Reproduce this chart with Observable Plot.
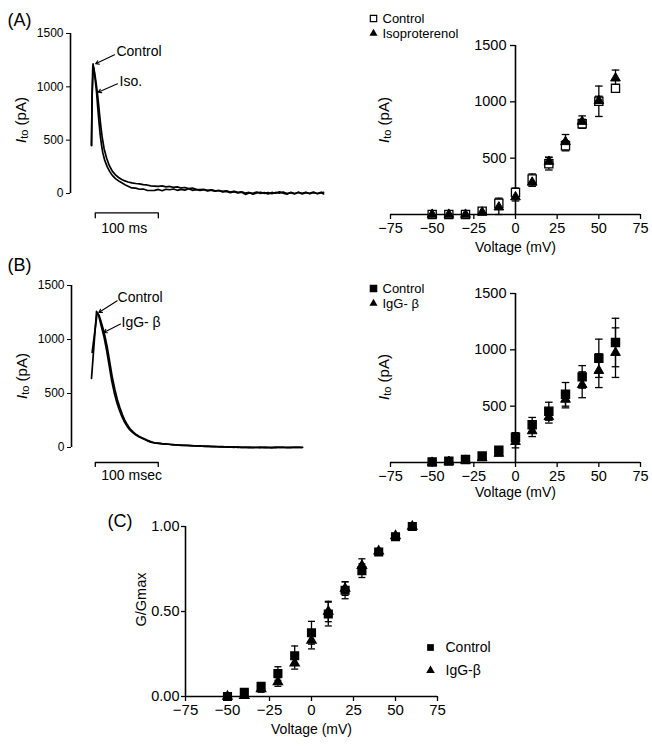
<!DOCTYPE html>
<html><head><meta charset="utf-8">
<script src="https://cdn.jsdelivr.net/npm/d3@7"></script>
<script src="https://cdn.jsdelivr.net/npm/@observablehq/plot@0.6"></script>
<style>
body{margin:0;background:#fff;}
#fig{position:relative;width:652px;height:746px;background:#fff;}
</style></head><body><div id="fig"></div>
<script>
// ---------- data ----------
const yTicksTrace = [0, 500, 1000, 1500];
const yTicksIV = [500, 1000, 1500];
const vTicks = [-75, -50, -25, 0, 25, 50, 75];
const cYTicks = [0, 0.5, 1];
const voltages = [-50, -40, -30, -20, -10, 0, 10, 20, 30, 40, 50, 60];

// (A) I-V: Control vs Isoproterenol (pA)
const aControl = [0, 0, 0, 30, 100, 195, 315, 450, 610, 805, 1005, 1120];
const aControlErr = [0, 0, 0, 0, 45, 40, 45, 55, 45, 40, 135, 30];
const aIso = [0, 0, 0, 20, 65, 155, 285, 470, 645, 825, 1010, 1210];
const aIsoErr = [0, 0, 0, 0, 65, 35, 35, 40, 65, 50, 40, 72];

// (B) I-V: Control vs IgG-β (pA)
const bControl = [5, 12, 27, 57, 110, 225, 335, 455, 605, 760, 925, 1065];
const bControlErr = [0, 0, 0, 0, 20, 40, 65, 80, 105, 100, 170, 215];
const bIgg = [0, 8, 18, 40, 80, 185, 280, 405, 560, 690, 815, 975];
const bIggErr = [0, 0, 0, 0, 20, 55, 50, 55, 75, 115, 150, 220];

// (C) G/Gmax
const cControl = [0, 0.025, 0.06, 0.135, 0.24, 0.375, 0.485, 0.625, 0.74, 0.85, 0.94, 1.0];
const cControlErr = [0, 0.01, 0.015, 0.04, 0.057, 0.067, 0.07, 0.05, 0.04, 0.015, 0.01, 0];
const cIgg = [0, 0.005, 0.045, 0.085, 0.196, 0.33, 0.5, 0.635, 0.77, 0.855, 0.945, 1.0];
const cIggErr = [0, 0.005, 0.02, 0.025, 0.035, 0.05, 0.06, 0.04, 0.04, 0.015, 0.01, 0];

// current traces [time ms, current pA]
const traceAControl = [[0,450],[1,950],[2,1180],[2.5,1215],[4,1150],[6,1060],[8,950],[10,800],[12,660],[14,540],[16,450],[18,380],[21,310],[25,250],[29,205],[33,170],[38,140],[43,118],[48,100],[53,82],[58,68],[64,52],[70,50],[76,40],[82,42],[88,30],[94,28],
[100,30],[106,38],[112,26],[118,40],[124,35],[130,42],[136,30],[142,38],[148,32],[154,44],[160,30],[166,36],[172,28],[178,35],[184,25],[190,32],[196,22],[202,28],[208,15],[214,20],[220,8],[226,18],[232,5],[238,12],[244,-8],[250,6],[256,2],[262,14],[268,0],[274,8],[280,-4],[286,10],[292,2],[298,16],[304,4],[310,-6],[316,10],[322,0],[328,12],[334,-4],[340,8],[346,2],[352,14],[358,-2],[364,6],[368,10]];
const traceAIso = [[0,450],[1,920],[2.5,1150],[3.5,1180],[5,1130],[7,1050],[9,960],[11,850],[13,730],[15,620],[17,525],[20,420],[24,330],[28,265],[33,210],[38,175],[43,150],[48,132],[53,118],[58,108],[64,100],[70,94],[76,90],[82,84],[88,80],[94,72],
[100,70],[106,66],[112,72],[118,62],[124,66],[130,58],[136,62],[142,52],[148,56],[154,46],[160,50],[166,40],[172,36],[178,40],[184,30],[190,34],[196,24],[202,28],[208,20],[214,26],[220,14],[226,20],[232,10],[238,16],[244,4],[250,10],[256,-6],[262,6],[268,12],[274,2],[280,8],[286,-2],[292,10],[298,4],[304,14],[310,0],[316,8],[322,-4],[328,10],[334,2],[340,12],[346,-2],[352,8],[358,0],[364,12],[368,-4]];
const traceBControl = [[0,640],[8,1260],[11,1230],[14,1160],[17,1090],[20,1020],[24,900],[28,760],[32,620],[36,510],[40,420],[44,350],[48,290],[52,240],[56,200],[60,168],[65,140],[70,118],[75,100],[80,85],[88,64],[94,50],
[100,42],[106,38],[112,34],[118,31],[124,30],[130,25],[136,24],[142,20],[148,21],[154,17],[160,18],[166,14],[172,16],[178,11],[184,12],[190,8],[196,10],[202,6],[208,8],[214,4],[220,6],[226,2],[232,5],[238,0],[244,3],[250,-2],[256,2],[262,0],[268,4],[274,-2],[280,2],[286,-3],[292,3],[298,0],[304,4],[310,-2],[316,2],[322,0],[328,3],[335,0]];
const traceBIgg = [[1,880],[9,1245],[12,1225],[15,1170],[18,1110],[21,1040],[25,930],[29,790],[33,650],[37,540],[41,445],[45,370],[49,305],[53,250],[57,210],[61,175],[66,145],[71,120],[76,102],[81,88],[89,66],[95,52],
[100,44],[106,40],[112,36],[118,33],[124,29],[130,27],[136,23],[142,22],[148,19],[154,19],[160,15],[166,15],[172,12],[178,13],[184,10],[190,11],[196,7],[202,8],[208,5],[214,6],[220,3],[226,5],[232,1],[238,3],[244,0],[250,3],[256,-1],[262,2],[268,-2],[274,3],[280,0],[286,2],[292,-1],[298,4],[304,0],[310,2],[316,-2],[322,3],[328,0],[335,2]];

const scaleA = {start: 6, length: 100, label: "100 ms"};
const scaleB = {start: 6, length: 100, label: "100 msec"};
const annA = [
  {label: "Control", tx: 39.6, ty: 1328, x1: 36.5, y1: 1300, x2: 6.5, y2: 1216},
  {label: "Iso.", tx: 44.4, ty: 1052, x1: 41.2, y1: 1028, x2: 10.5, y2: 950}
];
const annB = [
  {label: "Control", tx: 41.3, ty: 1386, x1: 40.8, y1: 1358, x2: 11.6, y2: 1250},
  {label: "IgG- β", tx: 47.6, ty: 1155, x1: 46, y1: 1143, x2: 19.5, y2: 1065}
];
const legendA = ["Control", "Isoproterenol"];
const legendB = ["Control", "IgG- β"];
const legendC = ["Control", "IgG-β"];

// ---------- helpers ----------
const FONT = "'Liberation Sans', Arial, sans-serif";
const AXW = 1.6;
const fig = document.getElementById("fig");
function place(svg, left, top) {
  svg.style.position = "absolute";
  svg.style.left = left + "px";
  svg.style.top = top + "px";
  svg.style.overflow = "visible";
  svg.style.background = "transparent";
  fig.appendChild(svg);
  return svg;
}
const rows = (v, m, e) => v.map((x, i) => ({v: x, m: m[i], e: e[i]}));
const cap = {draw(ctx, size) { const w = Math.sqrt(size / Math.PI); ctx.moveTo(-w, 0); ctx.lineTo(w, 0); }};
function errMarks(data, sw = 1.3, cr = 3.8) {
  const d = data.filter(r => r.e > 0);
  return [
    Plot.ruleX(d, {x: "v", y1: r => r.m - r.e, y2: r => r.m + r.e, strokeWidth: sw}),
    Plot.dot(d, {x: "v", y: r => r.m + r.e, symbol: cap, r: cr, stroke: "black", strokeWidth: sw}),
    Plot.dot(d, {x: "v", y: r => r.m - r.e, symbol: cap, r: cr, stroke: "black", strokeWidth: sw})
  ];
}
function itoLabel(svg, x, y) {
  const t = d3.select(svg).append("text")
    .attr("transform", `translate(${x},${y}) rotate(-90)`)
    .attr("text-anchor", "middle").attr("dominant-baseline", "central")
    .attr("font-size", 15).attr("font-family", FONT).attr("fill", "black");
  t.append("tspan").attr("font-style", "italic").text("I");
  t.append("tspan").attr("font-size", 11).attr("dy", 4).text("to");
  t.append("tspan").attr("dy", -4).text(" (pA)");
}
function bar(s, yBar, yEnd) {
  return [[s.start, yEnd], [s.start, yBar], [s.start + s.length, yBar], [s.start + s.length, yEnd]];
}
const intFmt = d3.format("d");
const lbl = (txt, opts) => Plot.text([txt], {lineAnchor: "middle", ...opts});

// ---------- (A) left: traces ----------
const xDomA = [-33.3, 379];
const aLeft = Plot.plot({
  width: 340, height: 240, marginLeft: 70, marginRight: 10, marginTop: 33, marginBottom: 47,
  style: {fontFamily: FONT, fontSize: "12px", color: "black"},
  x: {domain: xDomA, axis: null},
  y: {domain: [0, 1500]},
  marks: [
    Plot.ruleX([xDomA[0]], {y1: 0, y2: 1500, strokeWidth: AXW}),
    Plot.axisY({ticks: yTicksTrace, tickFormat: intFmt, tickSize: 4, tickPadding: 3, label: null, fontSize: 12}),
    Plot.line(traceAControl, {x: d => d[0], y: d => d[1], strokeWidth: 1.7}),
    Plot.line(traceAIso, {x: d => d[0], y: d => d[1], strokeWidth: 1.7}),
    Plot.line(bar(scaleA, -181, -228), {x: d => d[0], y: d => d[1], strokeWidth: 1.3}),
    Plot.text([scaleA.label], {x: () => scaleA.start, y: () => -331, dx: 6, textAnchor: "start", lineAnchor: "middle", fontSize: 14}),
    Plot.arrow(annA, {x1: "x1", y1: "y1", x2: "x2", y2: "y2", headLength: 5, strokeWidth: 1.1}),
    Plot.text(annA, {x: "tx", y: "ty", text: "label", textAnchor: "start", lineAnchor: "middle", fontSize: 14}),
    lbl("(A)", {frameAnchor: "top-left", dx: -63, dy: -13, textAnchor: "start", fontSize: 18})
  ]
});
place(aLeft, 0, 0);
itoLabel(aLeft, 20, 120);

// ---------- (B) left: traces ----------
const xDomB = [-31.75, 379.4];
const bLeft = Plot.plot({
  width: 340, height: 240, marginLeft: 71, marginRight: 10, marginTop: 25, marginBottom: 53,
  style: {fontFamily: FONT, fontSize: "12px", color: "black"},
  x: {domain: xDomB, axis: null},
  y: {domain: [0, 1500]},
  marks: [
    Plot.ruleX([xDomB[0]], {y1: 0, y2: 1500, strokeWidth: AXW}),
    Plot.axisY({ticks: yTicksTrace, tickFormat: intFmt, tickSize: 4, tickPadding: 3, label: null, fontSize: 12}),
    Plot.line(traceBControl, {x: d => d[0], y: d => d[1], strokeWidth: 1.7}),
    Plot.line(traceBIgg, {x: d => d[0], y: d => d[1], strokeWidth: 1.7}),
    Plot.line(bar(scaleB, -139, -175), {x: d => d[0], y: d => d[1], strokeWidth: 1.3}),
    Plot.text([scaleB.label], {x: () => scaleB.start, y: () => -255, dx: 6, textAnchor: "start", lineAnchor: "middle", fontSize: 14}),
    Plot.arrow(annB, {x1: "x1", y1: "y1", x2: "x2", y2: "y2", headLength: 5, strokeWidth: 1.1}),
    Plot.text(annB, {x: "tx", y: "ty", text: "label", textAnchor: "start", lineAnchor: "middle", fontSize: 14}),
    lbl("(B)", {frameAnchor: "top-left", dx: -64, dy: -20, textAnchor: "start", fontSize: 18})
  ]
});
place(bLeft, 0, 260);
itoLabel(bLeft, 21, 116);

// ---------- I-V panels ----------
function ivPlot({height, marginTop, marginBottom, ctrl, test, ctrlFill, legend, legendDy, labelDy, tickFont}) {
  const W = 312, mL = 50, mR = 12;
  return Plot.plot({
    width: W, height, marginLeft: mL, marginRight: mR, marginTop, marginBottom,
    style: {fontFamily: FONT, fontSize: "14px", color: "black"},
    x: {domain: [-75, 75]},
    y: {domain: [0, 1500]},
    marks: [
      Plot.ruleY([0], {strokeWidth: AXW}),
      Plot.ruleX([0], {y1: 0, y2: 1500, strokeWidth: AXW}),
      Plot.axisX({ticks: vTicks, tickFormat: intFmt, tickSize: 5, tickPadding: 3, label: null, fontSize: tickFont, strokeWidth: 1.3}),
      Plot.axisY({ticks: yTicksIV, tickFormat: intFmt, tickSize: 5, tickPadding: 4, dx: (W - mL - mR) / 2, label: null, fontSize: tickFont, strokeWidth: 1.3}),
      ...errMarks(ctrl),
      ...errMarks(test),
      Plot.dot(ctrl, {x: "v", y: "m", symbol: "square", r: 4.6, fill: ctrlFill, stroke: "black", strokeWidth: 1.3}),
      Plot.dot(test, {x: "v", y: "m", symbol: "triangle", r: 3.6, fill: "black", stroke: "black", strokeWidth: 1}),
      Plot.dot([legend[0]], {frameAnchor: "top-left", dx: -17, dy: legendDy[0], symbol: "square", r: 3.6, fill: ctrlFill, stroke: "black", strokeWidth: 1.2}),
      Plot.dot([legend[1]], {frameAnchor: "top-left", dx: -17, dy: legendDy[1], symbol: "triangle", r: 3, fill: "black"}),
      lbl(legend[0], {frameAnchor: "top-left", dx: -8, dy: legendDy[0], textAnchor: "start", fontSize: 13}),
      lbl(legend[1], {frameAnchor: "top-left", dx: -8, dy: legendDy[1], textAnchor: "start", fontSize: 13}),
      lbl("Voltage (mV)", {frameAnchor: "bottom", dy: labelDy, fontSize: 14})
    ]
  });
}
const aRight = ivPlot({height: 260, marginTop: 45, marginBottom: 46,
  ctrl: rows(voltages, aControl, aControlErr), test: rows(voltages, aIso, aIsoErr),
  ctrlFill: "white", legend: legendA, legendDy: [-27, -12], labelDy: 33, tickFont: 14.5});
place(aRight, 340, 0);
itoLabel(aRight, 43, 120);

const bRight = ivPlot({height: 240, marginTop: 33, marginBottom: 38,
  ctrl: rows(voltages, bControl, bControlErr), test: rows(voltages, bIgg, bIggErr),
  ctrlFill: "black", legend: legendB, legendDy: [-5, 10], labelDy: 30, tickFont: 14.5});
place(bRight, 340, 260);
itoLabel(bRight, 43, 117);

// ---------- (C) G/Gmax ----------
const cX = [-75, 75];
const cCtrlRows = rows(voltages, cControl, cControlErr);
const cIggRows = rows(voltages, cIgg, cIggErr);
const cPlot = Plot.plot({
  width: 400, height: 246, marginLeft: 85, marginRight: 63, marginTop: 26, marginBottom: 50,
  style: {fontFamily: FONT, fontSize: "15px", color: "black"},
  x: {domain: cX},
  y: {domain: [0, 1]},
  marks: [
    Plot.ruleY([0], {strokeWidth: AXW}),
    Plot.ruleX([cX[0]], {y1: 0, y2: 1, strokeWidth: AXW}),
    Plot.axisX({ticks: vTicks, tickFormat: intFmt, tickSize: 5, tickPadding: 3, label: null, fontSize: 15, strokeWidth: 1.3}),
    Plot.axisY({ticks: cYTicks, tickFormat: d3.format(".2f"), tickSize: 4, tickPadding: 2, label: null, fontSize: 14.5, strokeWidth: 1.3}),
    ...errMarks(cCtrlRows, 1.3, 3.5),
    ...errMarks(cIggRows, 1.3, 3.5),
    Plot.dot(cCtrlRows, {x: "v", y: "m", symbol: "square", r: 4.3, fill: "black", stroke: "black"}),
    Plot.dot(cIggRows, {x: "v", y: "m", symbol: "triangle", r: 3.3, fill: "black", stroke: "black"}),
    Plot.dot([legendC[0]], {frameAnchor: "bottom-right", dx: -7, dy: -49, symbol: "square", r: 3.8, fill: "black"}),
    Plot.dot([legendC[1]], {frameAnchor: "bottom-right", dx: -7, dy: -26, symbol: "triangle", r: 3.2, fill: "black"}),
    lbl(legendC[0], {frameAnchor: "bottom-right", dx: 8, dy: -49, textAnchor: "start", fontSize: 14}),
    lbl(legendC[1], {frameAnchor: "bottom-right", dx: 8, dy: -26, textAnchor: "start", fontSize: 14}),
    lbl("Voltage (mV)", {frameAnchor: "bottom", dy: 33, fontSize: 14}),
    lbl("G/Gmax", {frameAnchor: "left", dx: -44, dy: -12, rotate: -90, textAnchor: "middle", fontSize: 14.5}),
    lbl("(C)", {frameAnchor: "top-left", dx: -78, dy: -5, textAnchor: "start", fontSize: 18})
  ]
});
place(cPlot, 100, 500);
</script></body></html>
